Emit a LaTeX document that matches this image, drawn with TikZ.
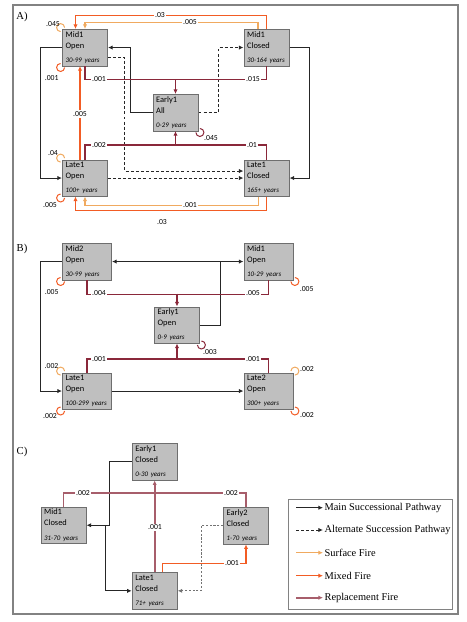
\documentclass[tikz,border=0pt]{standalone}
\usepackage{fontspec}
\setmainfont{Liberation Serif}
\newfontfamily\boxfont{Carlito}
\usepackage{tikz}
\usetikzlibrary{arrows.meta, calc}
\usepackage{xcolor}

\definecolor{boxgray}{RGB}{191,191,191}
\definecolor{boxline}{RGB}{110,110,110}
\definecolor{surfcol}{RGB}{240,170,96}
\definecolor{mixcol}{RGB}{242,92,36}
\definecolor{replcol}{RGB}{138,40,58}
\definecolor{framecol}{RGB}{130,130,130}

\newcommand{\yrs}[1]{\mbox{\itshape\fontsize{5.2}{6.5}\selectfont #1}}
\newcommand{\fireloop}[3]{\draw[#1, line width=0.75pt] ($(#2)+({#3+180}:2)$) ++({#3+45}:4) arc[start angle=#3+45, end angle=#3+315, radius=4];}

\begin{document}
\begin{tikzpicture}[x=0.75pt,y=0.75pt,yscale=-1,xscale=1,
  >={Latex[length=3.4pt,width=3.2pt]},
  stage/.style={draw=boxline, fill=boxgray, anchor=north west, text width=29pt, inner xsep=2.55pt, inner ysep=1pt, minimum height=27.4pt, align=left, font=\boxfont\fontsize{6.3}{8.2}\selectfont},
  wide/.style={text width=32pt},
  lab/.style={fill=white, inner sep=0.8pt, font=\boxfont\fontsize{5.8}{6}\selectfont},
  looplab/.style={inner sep=0.5pt, font=\boxfont\fontsize{5.8}{6}\selectfont},
  panel/.style={font=\fontsize{8}{9}\selectfont},
  legtext/.style={anchor=west, inner sep=1pt, font=\fontsize{7.8}{10}\selectfont},
  main/.style={draw=black!85, line width=0.7pt},
  alt/.style={main, dash pattern=on 2.2pt off 1.6pt},
  altc/.style={draw=black!55, line width=0.7pt, dash pattern=on 1.6pt off 1.2pt},
  surf/.style={draw=surfcol, line width=1.1pt},
  mixed/.style={draw=mixcol, line width=1.1pt},
  repl/.style={draw=replcol, line width=0.85pt},
  replc/.style={draw=replcol!75, line width=1.2pt}]
\useasboundingbox (0,0) rectangle (467,622);

%Frame
\draw[framecol, line width=0.9pt] (13,5) rectangle (458,614);

%Panel A
\node[panel] (pa) at (22,17) {A)};
\node[stage] (mo) at (62,29) {Mid1\\Open\\[2.5pt]\yrs{30-99 years}};
\node[stage] (mc) at (243.5,29) {Mid1\\Closed\\[2.5pt]\yrs{30-164 years}};
\node[stage] (ea) at (152.5,94) {Early1\\All\\[2.5pt]\yrs{0-29 years}};
\node[stage] (lo) at (62,159.5) {Late1\\Open\\[2.5pt]\yrs{100+ years}};
\node[stage] (lc) at (243.5,159.5) {Late1\\Closed\\[2.5pt]\yrs{165+ years}};

%Straight Lines
\draw[mixed,->] (mc.north) -- ++(0,-13.5) -| ($(mo.north west)+(13.5,0)$);
\draw[surf,->] ($(mc.north)+(-8.5,0)$) -- ++(0,-6.5) -| ($(mo.north west)+(23,0)$);
\draw[main,->] (mo.west) -- ++(-22,0) |- (lo.west);
\draw[main,->] (ea.west) -- ++(-22.5,0) |- (mo.east);
\draw[alt,->] ($(mo.east)+(0,9.5)$) -- ++(16.5,0) |- ($(lc.west)+(0,-7)$);
\draw[alt,->] (ea.east) -- ++(20,0) |- (mc.west);
\draw[alt,->] (lo.east) -- (lc.west);
\draw[main,->] (mc.east) -- ++(20.3,0) |- (lc.east);
\draw[repl] ($(mo.south west)+(23,0)$) -- ++(0,13.5) -| (mc.south);
\draw[repl,->] (ea.north |- 0,79) -- (ea.north);
\draw[repl] ($(lo.north west)+(23,0)$) -- ++(0,-14.5) -| (lc.north);
\draw[repl,->] (ea.south |- 0,145) -- (ea.south);
\draw[mixed,->] ($(lo.north west)+(18,0)$) -- ($(mo.south west)+(18,0)$);
\draw[surf,->] ($(lc.south)+(-8,0)$) -- ++(0,9) -| ($(lo.south west)+(23,0)$);
\draw[mixed,->] (lc.south) -- ++(0,14) -| ($(lo.south west)+(13.5,0)$);
%Loops
\fireloop{surf}{mo.north west}{45}
\fireloop{mixed}{mo.south west}{-45}
\fireloop{surf}{lo.north west}{45}
\fireloop{mixed}{lo.south west}{-45}
\fireloop{repl}{ea.south east}{225}
%Labels
\node[lab] (a1) at (160,15.5) {.03};
\node[lab] (a2) at (190,22.5) {.005};
\node[lab] (a3) at (99,79) {.001};
\node[lab] (a4) at (253,79) {.015};
\node[lab] (a5) at (99,145) {.002};
\node[lab] (a6) at (252,145) {.01};
\node[lab] (a7) at (80,114) {.005};
\node[lab] (a8) at (190,205) {.001};
\node[lab] (a9) at (162,222) {.03};
\node[looplab] (a10) at (53,24) {.045};
\node[looplab] (a11) at (51.7,78) {.001};
\node[looplab] (a12) at (53,152.7) {.04};
\node[looplab] (a13) at (50,205) {.005};
\node[looplab] (a14) at (211,138) {.045};

%Panel B
\node[panel] (pb) at (22,249) {B)};
\node[stage,wide] (mt) at (62,243) {Mid2\\Open\\[2.5pt]\yrs{30-99 years}};
\node[stage,wide] (mb) at (243.5,243) {Mid1\\Open\\[2.5pt]\yrs{10-29 years}};
\node[stage] (eb) at (154,306.5) {Early1\\Open\\[2.5pt]\yrs{0-9 years}};
\node[stage,wide] (lb) at (62,372.5) {Late1\\Open\\[2.5pt]\yrs{100-299 years}};
\node[stage,wide] (lt) at (243.5,372.5) {Late2\\Open\\[2.5pt]\yrs{300+ years}};

%Straight Lines
\coordinate (jb) at (mt.east -| 220,0);
\draw[main,->] (mt.west) -- ++(-22,0) |- (lb.west);
\draw[main] (eb.east) -| (jb);
\draw[main,->] (jb) -- (mt.east);
\draw[main,->] (jb) -- (mb.west);
\draw[repl] ($(mt.south west)+(25,0)$) -- ++(0,14) -| (mb.south);
\draw[repl,->] (eb.north |- 0,293.5) -- (eb.north);
\draw[repl] ($(lb.north west)+(25,0)$) -- ++(0,-13.5) -| (lt.north);
\draw[repl,->] (eb.south |- 0,359) -- (eb.south);
\draw[main,->] (lb.east) -- (lt.west);
%Loops
\fireloop{mixed}{mt.south west}{-45}
\fireloop{mixed}{mb.south east}{225}
\fireloop{repl}{eb.south east}{225}
\fireloop{surf}{lb.north west}{45}
\fireloop{mixed}{lb.south west}{-45}
\fireloop{surf}{lt.north east}{135}
\fireloop{mixed}{lt.south east}{225}
%Labels
\node[lab] (b1) at (99,293.5) {.004};
\node[lab] (b2) at (253,293.5) {.005};
\node[lab] (b3) at (99,359) {.001};
\node[lab] (b4) at (253,359) {.001};
\node[looplab] (b5) at (51.7,291.7) {.005};
\node[looplab] (b6) at (306.7,289.3) {.005};
\node[looplab] (b7) at (210,351.7) {.003};
\node[looplab] (b8) at (51.5,366) {.002};
\node[looplab] (b9) at (50,416) {.002};
\node[looplab] (b10) at (307,369) {.002};
\node[looplab] (b11) at (307,415) {.002};

%Panel C
\node[panel] (pc) at (22,452) {C)};
\node[stage] (e1c) at (131.7,443.3) {Early1\\Closed\\[2.5pt]\yrs{0-30 years}};
\node[stage] (m1c) at (40.5,506.7) {Mid1\\Closed\\[2.5pt]\yrs{31-70 years}};
\node[stage] (l1c) at (131.7,572.3) {Late1\\Closed\\[2.5pt]\yrs{71+ years}};
\node[stage] (e2c) at (223,507.3) {Early2\\Closed\\[2.5pt]\yrs{1-70 years}};

%Straight Lines
\draw[main,->] (e1c.west) -- ++(-22.4,0) |- (m1c.east);
\draw[main,->] ($(m1c.east)+(19.3,0)$) |- (l1c.west);
\draw[replc] ($(m1c.north west)+(23,0)$) -- ++(0,-14) -| (e2c.north);
\draw[replc,->] (l1c.north) -- (e1c.south);
\draw[mixed,->] ($(l1c.north)+(8,0)$) -- ++(0,-9) -| (e2c.south);
\draw[altc,->] (e2c.west) -- ++(-22,0) |- (l1c.east);
%Labels
\node[lab] (c1) at (83,492.7) {.002};
\node[lab] (c2) at (231,492.7) {.002};
\node[lab] (c3) at (155,527.3) {.001};
\node[lab] (c4) at (232,563.5) {.001};

%Legend
\draw[framecol, line width=0.7pt] (288.3,499) rectangle (452.7,609.3);
\node[legtext] (k1) at (323,507.7) {Main Successional Pathway};
\node[legtext] (k2) at (323,530) {Alternate Succession Pathway};
\node[legtext] (k3) at (323,552.7) {Surface Fire};
\node[legtext] (k4) at (323,575.7) {Mixed Fire};
\node[legtext] (k5) at (323,597.7) {Replacement Fire};
\draw[main,->] ($(k1.west)+(-27,0)$) -- (k1.west);
\draw[alt,->] ($(k2.west)+(-27,0)$) -- (k2.west);
\draw[surf,->] ($(k3.west)+(-27,0)$) -- (k3.west);
\draw[mixed,->] ($(k4.west)+(-27,0)$) -- (k4.west);
\draw[replc,->] ($(k5.west)+(-27,0)$) -- (k5.west);

\end{tikzpicture}
\end{document}
